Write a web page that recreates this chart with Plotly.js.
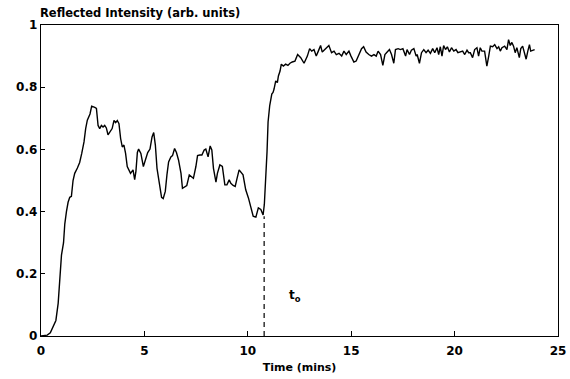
<!DOCTYPE html>
<html>
<head>
<meta charset="utf-8">
<script src="https://cdn.plot.ly/plotly-3.0.1.min.js"></script>
<style>html,body{margin:0;padding:0;background:#fff;}#chart{width:570px;height:379px;}</style>
</head>
<body>
<div id="chart"></div>
<script>
const timeMins = [0,0.15,0.3,0.45,0.56,0.65,0.72,0.83,0.91,0.99,1.09,1.15,1.23,1.31,1.39,1.47,1.55,1.63,1.76,1.87,1.97,2.08,2.16,2.24,2.37,2.45,2.6,2.68,2.76,2.84,2.92,3.0,3.08,3.16,3.24,3.34,3.44,3.53,3.61,3.69,3.77,3.85,3.93,4.01,4.09,4.17,4.26,4.33,4.45,4.53,4.59,4.66,4.72,4.83,4.95,5.04,5.16,5.27,5.37,5.45,5.53,5.61,5.72,5.83,5.91,6.01,6.09,6.17,6.28,6.36,6.46,6.55,6.65,6.77,6.84,6.96,7.05,7.17,7.28,7.37,7.49,7.57,7.68,7.78,7.89,7.97,8.08,8.18,8.26,8.34,8.46,8.53,8.65,8.77,8.89,8.99,9.1,9.18,9.29,9.39,9.48,9.58,9.77,9.9,10.03,10.14,10.26,10.39,10.51,10.63,10.74,10.8,10.87,10.93,10.98,11.06,11.16,11.22,11.27,11.35,11.43,11.48,11.56,11.62,11.72,11.83,11.94,12.04,12.15,12.28,12.41,12.56,12.72,12.88,12.99,13.09,13.2,13.31,13.41,13.52,13.6,13.73,13.84,13.92,14.05,14.17,14.28,14.41,14.54,14.65,14.76,14.89,14.99,15.13,15.24,15.37,15.5,15.6,15.72,15.85,15.98,16.1,16.21,16.3,16.42,16.53,16.63,16.74,16.85,16.95,17.06,17.14,17.27,17.38,17.5,17.63,17.7,17.82,17.91,18.03,18.14,18.19,18.3,18.4,18.51,18.62,18.72,18.83,18.94,19.04,19.15,19.23,19.31,19.39,19.47,19.56,19.65,19.75,19.85,19.96,20.07,20.16,20.28,20.39,20.49,20.6,20.68,20.76,20.87,20.97,21.08,21.16,21.24,21.32,21.45,21.56,21.65,21.73,21.84,21.94,22.05,22.13,22.21,22.29,22.42,22.53,22.61,22.69,22.77,22.85,22.93,23.01,23.13,23.2,23.29,23.38,23.46,23.54,23.62,23.68,23.77,23.87];
const intensity = [0,0.001,0.003,0.01,0.025,0.04,0.05,0.105,0.2,0.26,0.3,0.36,0.4,0.43,0.446,0.449,0.5,0.523,0.54,0.558,0.587,0.624,0.667,0.694,0.714,0.739,0.735,0.732,0.677,0.667,0.677,0.672,0.677,0.669,0.647,0.656,0.667,0.693,0.686,0.693,0.683,0.635,0.608,0.614,0.587,0.545,0.529,0.523,0.534,0.503,0.529,0.59,0.601,0.587,0.545,0.566,0.59,0.601,0.64,0.654,0.614,0.539,0.486,0.446,0.442,0.465,0.518,0.56,0.576,0.58,0.603,0.59,0.566,0.523,0.475,0.481,0.484,0.518,0.513,0.507,0.545,0.58,0.582,0.582,0.598,0.601,0.576,0.611,0.598,0.539,0.495,0.523,0.55,0.545,0.486,0.486,0.502,0.491,0.484,0.481,0.507,0.534,0.518,0.47,0.444,0.412,0.385,0.382,0.412,0.407,0.389,0.423,0.497,0.592,0.688,0.741,0.778,0.783,0.794,0.82,0.815,0.836,0.852,0.874,0.868,0.874,0.87,0.877,0.881,0.884,0.905,0.895,0.877,0.9,0.924,0.916,0.921,0.9,0.916,0.934,0.913,0.921,0.927,0.934,0.911,0.916,0.905,0.909,0.9,0.916,0.905,0.916,0.9,0.881,0.884,0.905,0.924,0.93,0.913,0.905,0.9,0.905,0.9,0.916,0.905,0.87,0.905,0.913,0.921,0.905,0.877,0.921,0.924,0.921,0.924,0.9,0.921,0.905,0.919,0.924,0.9,0.905,0.877,0.911,0.921,0.911,0.919,0.909,0.924,0.911,0.927,0.905,0.93,0.9,0.934,0.921,0.93,0.913,0.927,0.916,0.921,0.911,0.913,0.916,0.905,0.919,0.911,0.911,0.895,0.921,0.927,0.9,0.927,0.916,0.916,0.868,0.9,0.932,0.93,0.937,0.924,0.93,0.916,0.927,0.932,0.921,0.953,0.934,0.944,0.932,0.911,0.927,0.895,0.924,0.932,0.905,0.89,0.916,0.937,0.916,0.919,0.921];
const markerTime = [10.79, 10.79];
const markerLevel = [0, 0.385];
const markerLabel = 't<sub>o</sub>';
const labelPos = [12.3, 0.13];
const xTicks = [0, 5, 10, 15, 20, 25];
const xTickText = ['0', '5', '10', '15', '20', '25'];
const yTicks = [0, 0.2, 0.4, 0.6, 0.8, 1];
const yTickText = ['0', '0.2', '0.4', '0.6', '0.8', '1'];

const font = {family: '"DejaVu Sans", Arial, sans-serif', color: '#000', weight: 'bold'};
const f = s => Object.assign({size: s}, font);
const traces = [
  {x: timeMins, y: intensity, type: 'scatter', mode: 'lines', line: {color: '#000', width: 1.4}, hoverinfo: 'skip'},
  {x: markerTime, y: markerLevel, type: 'scatter', mode: 'lines', line: {color: '#000', width: 1.2, dash: '5px,4px'}, hoverinfo: 'skip'}
];
const layout = {
  width: 570, height: 379,
  margin: {l: 41, r: 12, t: 25, b: 43},
  paper_bgcolor: '#fff', plot_bgcolor: '#fff',
  showlegend: false,
  font: f(12),
  title: {text: 'Reflected Intensity (arb. units)', x: 40/570, xanchor: 'left', xref: 'container', y: 1 - 13/379, yanchor: 'middle', yref: 'container', font: f(11.5)},
  xaxis: {
    range: [0, 25], tickvals: xTicks, ticktext: xTickText,
    ticks: 'inside', ticklen: 5, tickwidth: 1.2, tickcolor: '#000',
    showline: true, linecolor: '#000', linewidth: 1.3, mirror: true,
    showgrid: false, zeroline: false, tickfont: f(12), ticklabelstandoff: 3,
    title: {text: 'Time (mins)', standoff: 6, font: f(11)}
  },
  yaxis: {
    range: [0, 1], tickvals: yTicks, ticktext: yTickText,
    ticks: 'inside', ticklen: 4, tickwidth: 1.2, tickcolor: '#000',
    showline: true, linecolor: '#000', linewidth: 1.3, mirror: true,
    showgrid: false, zeroline: false, tickfont: f(12)
  },
  annotations: [
    {x: labelPos[0], y: labelPos[1], xref: 'x', yref: 'y', text: markerLabel, showarrow: false, font: f(12)}
  ]
};
Plotly.newPlot('chart', traces, layout, {staticPlot: true, displayModeBar: false});
</script>
</body>
</html>
